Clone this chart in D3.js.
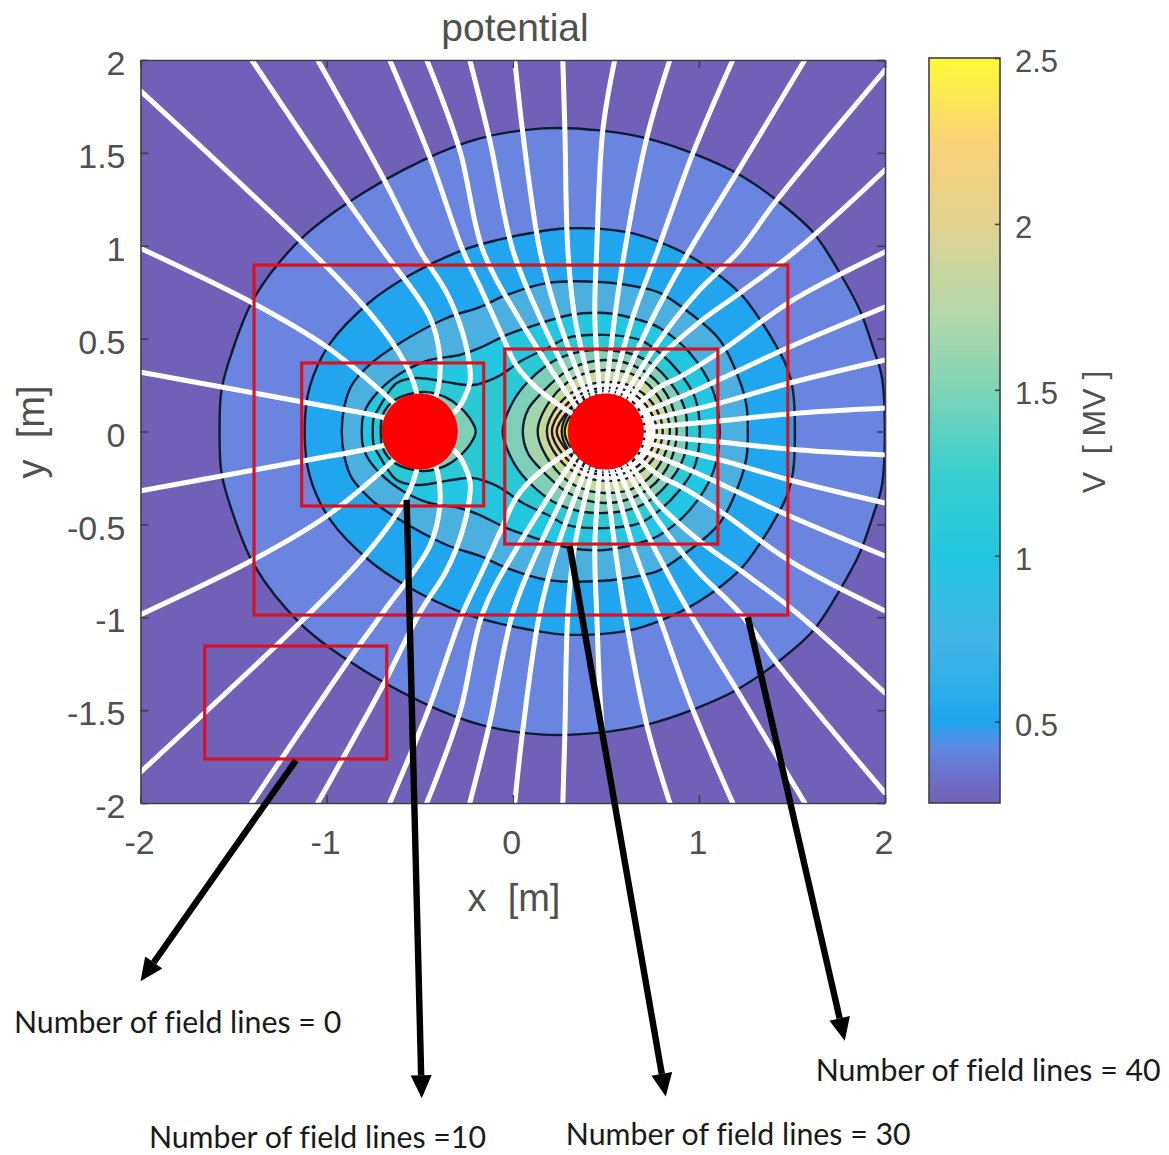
<!DOCTYPE html>
<html><head><meta charset="utf-8">
<script src="https://cdn.jsdelivr.net/npm/d3@7"></script>
<style>
html,body{margin:0;padding:0;background:#fff}
svg{display:block}
text{font-family:"Liberation Sans",Arial,sans-serif;fill:#505050}
.note{font-family:Lato,"Open Sans",sans-serif;fill:#1a1a1a;font-variant-ligatures:none}
</style></head><body>
<script>
// ---- Data (metres, upper half y>=0 as read; the figure is mirrored in y) ----
const xTicks=[-2,-1,0,1,2];
const yTicks=[-2,-1.5,-1,-0.5,0,0.5,1,1.5,2];
const xTickLabels=["-2","-1","0","1","2"];
const yTickLabels=["-2","-1.5","-1","-0.5","0","0.5","1","1.5","2"];
const barTicks=[0.5,1,1.5,2,2.5];
const barTickLabels=["0.5","1","1.5","2","2.5"];
const barDomain=[0.255,2.5];
const barStopValues=[0.255,0.33,0.42,0.5,0.62,0.75,1,1.25,1.5,1.75,2,2.25,2.5];
const barStopColors=["#7161b5","#6f6fc8","#5f88e2","#1ea5ee","#30aeea","#42b4e3","#23c6e0","#3acfcf","#7fd4b5","#b8d8a8","#e0d28f","#fcd277","#fdfb35"];

const contour1=[[-1.575,0],[-1.565,0.223],[-1.505,0.438],[-1.387,0.723],[-1.145,1.03],[-0.892,1.228],[-0.484,1.46],[-0.177,1.578],[0.161,1.632],[0.468,1.621],[0.72,1.578],[0.968,1.497],[1.204,1.39],[1.419,1.245],[1.613,1.073],[1.758,0.852],[1.865,0.653],[1.935,0.455],[1.983,0.294],[1.999,0]];
const contour2=[[-1.118,0],[-1.091,0.239],[-0.984,0.47],[-0.769,0.696],[-0.554,0.841],[-0.269,0.976],[-0.086,1.03],[0.091,1.067],[0.29,1.094],[0.613,1.073],[0.79,1.019],[0.989,0.922],[1.22,0.745],[1.343,0.58],[1.419,0.454],[1.473,0.346],[1.505,0.223],[1.516,0]];
const contour3=[[-0.919,0],[-0.903,0.143],[-0.865,0.25],[-0.758,0.369],[-0.623,0.466],[-0.355,0.611],[-0.177,0.67],[-0.032,0.735],[0.183,0.799],[0.468,0.805],[0.699,0.773],[0.79,0.746],[0.951,0.638],[1.112,0.493],[1.231,0.24],[1.257,0.132],[1.263,0]];
const contour4=[[-0.811,0],[-0.806,0.073],[-0.785,0.132],[-0.715,0.223],[-0.591,0.32],[-0.446,0.385],[-0.285,0.412],[-0.177,0.45],[-0.032,0.52],[0.091,0.563],[0.306,0.627],[0.494,0.638],[0.682,0.6],[0.79,0.557],[0.951,0.423],[1.075,0.223],[1.112,0]];
const contour5=[[-0.752,0],[-0.747,0.073],[-0.725,0.116],[-0.623,0.261],[-0.516,0.288],[-0.355,0.266],[-0.215,0.25],[-0.086,0.293],[0.054,0.385],[0.199,0.455],[0.29,0.503],[0.494,0.52],[0.682,0.493],[0.79,0.423],[0.897,0.315],[0.978,0.186],[1.005,0]];
const contour6a=[[-0.709,0],[-0.699,0.089],[-0.634,0.17],[-0.484,0.213],[-0.365,0.186],[-0.285,0.132],[-0.215,0.046],[-0.199,0]];
const contour6=[[-0.054,0],[-0.011,0.137],[0.075,0.261],[0.253,0.396],[0.494,0.439],[0.715,0.385],[0.876,0.223],[0.93,0.1],[0.935,0]];
const contour7=[[0.054,0],[0.081,0.116],[0.15,0.202],[0.304,0.334],[0.494,0.385],[0.688,0.336],[0.828,0.197],[0.881,0]];
const contour8=[[0.134,0],[0.204,0.17],[0.33,0.288],[0.494,0.331],[0.664,0.299],[0.79,0.175],[0.844,0]];
const contour9=[[0.183,0],[0.247,0.145],[0.36,0.234],[0.494,0.266],[0.634,0.245],[0.752,0.151],[0.806,0]];
const contour10=[[0.21,0],[0.274,0.129],[0.376,0.207],[0.494,0.234],[0.618,0.218],[0.72,0.137],[0.774,0]];
const contour11=[[0.236,0],[0.301,0.116],[0.387,0.191],[0.494,0.218],[0.602,0.191],[0.682,0.11],[0.709,0]];
const contour12=[[0.263,0],[0.306,0.11],[0.392,0.18],[0.494,0.2],[0.59,0.18],[0.66,0.11],[0.69,0]];
const contour13=[[0.279,0],[0.32,0.1],[0.4,0.17],[0.494,0.19],[0.58,0.17],[0.65,0.1],[0.68,0]];
const contourList=[contour1,contour2,contour3,contour4,contour5,contour6a,contour6,contour7,contour8,contour9,contour10,contour11,contour12,contour13];
const bandColors=["#6a85e0","#22a5ef","#4cb0e0","#22c8e2","#2cc9d4","#7ecfb8","#7ecfb8","#a2d6aa","#c8d89a","#e8d48a","#f6cf7a","#fdd16e","#f9e050","#f8f020"];
const paleGlow=[[0.36,0],[0.3,0.1],[0.33,0.17],[0.39,0.24],[0.5,0.27],[0.63,0.24],[0.72,0.16],[0.77,0]];

const lineLeftC=[[-2.004,0.32],[-1.128,0.159],[-0.704,0.078],[-0.607,0.046]];
const lineLeftB=[[-2.004,0.988],[-1.397,0.692],[-0.999,0.455],[-0.645,0.159],[-0.581,0.089]];
const lineLeftA=[[-2.004,1.838],[-1.145,1.031],[-0.806,0.681],[-0.645,0.476],[-0.553,0.315],[-0.516,0.207],[-0.505,0.116]];
const lineLeftD=[[-1.402,2],[-0.892,1.246],[-0.699,0.977],[-0.446,0.616],[-0.392,0.401],[-0.403,0.223],[-0.446,0.116]];
const lineLeftE=[[-1.048,2],[-0.699,1.37],[-0.5,0.977],[-0.355,0.746],[-0.269,0.53],[-0.231,0.347],[-0.231,0.261],[-0.301,0.116],[-0.392,0.062]];
const lineRight1=[[2.01,0.127],[1.542,0.1],[1.112,0.057],[0.699,0.019]];
const lineRight2=[[2.0,0.385],[1.488,0.261],[1.112,0.153],[0.693,0.057]];
const lineRight3=[[2.0,0.67],[1.488,0.455],[1.128,0.288],[0.951,0.207],[0.677,0.094]];
const lineRight4=[[2.0,0.966],[1.488,0.697],[1.128,0.439],[0.897,0.293],[0.79,0.24],[0.656,0.127]];
const lineRight5=[[2.0,1.408],[1.526,0.977],[1.22,0.746],[1.005,0.59],[0.79,0.396],[0.623,0.159]];
const lineRight6=[[2.0,1.946],[1.419,1.246],[1.22,0.977],[0.989,0.746],[0.79,0.493],[0.596,0.181]];
const lineRight7=[[1.569,2],[1.204,1.392],[0.951,0.977],[0.774,0.654],[0.682,0.466],[0.564,0.197]];
const lineRight8=[[1.182,2],[0.968,1.499],[0.779,0.977],[0.645,0.616],[0.532,0.202]];
const lineRight9=[[0.844,2],[0.72,1.58],[0.602,0.977],[0.548,0.616],[0.5,0.206]];
const lineRight10=[[0.548,2],[0.484,1.623],[0.451,0.977],[0.441,0.616],[0.468,0.206]];
const lineRight11=[[0.269,2],[0.28,1.623],[0.296,0.977],[0.333,0.616],[0.43,0.196]];
const lineRight12=[[0.011,2],[0.054,1.607],[0.145,0.977],[0.242,0.616],[0.398,0.186]];
const lineRight13=[[-0.231,2],[-0.124,1.57],[0,0.977],[0.145,0.616],[0.365,0.164]];
const lineRight14=[[-0.462,2],[-0.285,1.515],[-0.161,0.977],[0.038,0.6],[0.339,0.132]];
const lineRight15=[[-0.661,2],[-0.446,1.478],[-0.269,0.977],[-0.161,0.746],[-0.054,0.509],[0.021,0.353],[0.129,0.234],[0.312,0.1]];
const fieldLines=[lineLeftA,lineLeftB,lineLeftC,lineLeftD,lineLeftE,lineRight1,lineRight2,lineRight3,lineRight4,lineRight5,lineRight6,lineRight7,lineRight8,lineRight9,lineRight10,lineRight11,lineRight12,lineRight13,lineRight14,lineRight15];

const charges=[[-0.5,0,0.205],[0.5,0,0.205]];
const boxes=[[-1.39,0.896,1.478,-0.988],[-1.134,0.369,-0.156,-0.401],[-0.043,0.444,1.102,-0.606],[-1.655,-1.155,-0.677,-1.763]];
const arrows=[[-1.165,-1.771,-2.0,-2.96],[-0.57,-0.368,-0.489,-3.59],[0.306,-0.616,0.822,-3.58],[1.263,-1.0,1.784,-3.28]];
const noteTexts=["Number of field lines = 0","Number of field lines =10","Number of field lines = 30","Number of field lines = 40"];
const notePos=[[-2.68,-3.24],[-1.955,-3.86],[0.285,-3.84],[1.628,-3.495]];

// ---- Drawing ----
const W=1169,H=1155;
const x=d3.scaleLinear().domain([-2,2]).range([140.5,885]);
const y=d3.scaleLinear().domain([-2,2]).range([803,60]);
const c=d3.scaleLinear().domain(barDomain).range([803,58]);
const svg=d3.select("body").append("svg").attr("width",W).attr("height",H);
const defs=svg.append("defs");
defs.append("clipPath").attr("id","plot").append("rect")
  .attr("x",x(-2)).attr("y",y(2)).attr("width",x(2)-x(-2)).attr("height",y(-2)-y(2));
defs.append("filter").attr("id","soft").attr("x","-2%").attr("y","-2%").attr("width","104%").attr("height","104%")
  .append("feGaussianBlur").attr("stdDeviation",0.5);
const grad=defs.append("linearGradient").attr("id","bar").attr("x1",0).attr("x2",0).attr("y1",1).attr("y2",0);
barStopValues.forEach((v,i)=>grad.append("stop")
  .attr("offset",(v-barDomain[0])/(barDomain[1]-barDomain[0])).attr("stop-color",barStopColors[i]));

const plot=svg.append("g").attr("clip-path","url(#plot)").append("g").attr("filter","url(#soft)");
plot.append("rect").attr("x",x(-2)).attr("y",y(2)).attr("width",x(2)-x(-2)).attr("height",y(-2)-y(2)).attr("fill","#7161b7");
const closed=d3.line().x(d=>x(d[0])).y(d=>y(d[1])).curve(d3.curveCatmullRomClosed.alpha(0.5));
const open=d3.line().x(d=>x(d[0])).y(d=>y(d[1])).curve(d3.curveCatmullRom.alpha(0.5));
const mirror=pts=>pts.concat(pts.slice(1,-1).reverse().map(p=>[p[0],-p[1]]));
contourList.forEach((pts,i)=>{
  plot.append("path").attr("d",closed(mirror(pts))).attr("fill",bandColors[i]);
});
plot.append("path").attr("d",closed(mirror(paleGlow))).attr("fill","#fffdf0").attr("opacity",0.9);
contourList.forEach(pts=>{
  plot.append("path").attr("d",closed(mirror(pts))).attr("fill","none")
    .attr("stroke","#0c1c30").attr("stroke-width",2.4);
});
[1,-1].forEach(s=>fieldLines.forEach(pts=>{
  plot.append("path").attr("d",open(pts.map(p=>[p[0],s*p[1]]))).attr("fill","none")
    .attr("stroke","#fff").attr("stroke-width",5).attr("stroke-linecap","round");
}));
charges.forEach(q=>{
  plot.append("ellipse").attr("cx",x(q[0])).attr("cy",y(q[1]))
    .attr("rx",x(q[2])-x(0)).attr("ry",y(0)-y(q[2])).attr("fill","#ff0000");
});

// axes
const fs=34;
const ax=svg.append("g").attr("class","axes");
const frameStyle=g=>{g.selectAll("path.domain,line").attr("stroke","#404048").attr("stroke-width",1.6);g.selectAll("text").attr("font-size",fs).attr("fill","#505050");};
ax.append("g").attr("transform",`translate(0,${y(-2)})`)
  .call(d3.axisBottom(x).tickValues(xTicks).tickFormat((d,i)=>xTickLabels[i]).tickSize(-8).tickSizeOuter(0).tickPadding(27)).call(frameStyle)
  .call(g=>g.selectAll("text").attr("dx",-1.5));
ax.append("g").attr("transform",`translate(${x(-2)},0)`)
  .call(d3.axisLeft(y).tickValues(yTicks).tickFormat((d,i)=>yTickLabels[i]).tickSize(-8).tickSizeOuter(0).tickPadding(15)).call(frameStyle)
  .call(g=>g.selectAll("text").attr("dy","0.43em"));
ax.append("g").attr("transform",`translate(0,${y(2)})`)
  .call(d3.axisTop(x).tickValues(xTicks).tickFormat("").tickSize(-8).tickSizeOuter(0)).call(frameStyle);
ax.append("g").attr("transform",`translate(${x(2)},0)`)
  .call(d3.axisRight(y).tickValues(yTicks).tickFormat("").tickSize(-8).tickSizeOuter(0)).call(frameStyle);

// colourbar
svg.append("rect").attr("x",929).attr("y",c(2.5)).attr("width",71).attr("height",c(barDomain[0])-c(2.5))
  .attr("fill","url(#bar)").attr("stroke","#404048").attr("stroke-width",1.6);
svg.append("g").attr("transform","translate(1000,0)")
  .call(d3.axisRight(c).tickValues(barTicks).tickFormat((d,i)=>barTickLabels[i]).tickSize(-5).tickSizeOuter(0).tickPadding(15))
  .call(g=>{g.select("path.domain").remove();g.selectAll("line").attr("stroke","#404048").attr("stroke-width",1.6);
    g.selectAll("text").attr("font-size",31).attr("fill","#505050").attr("dy","0.43em");});

// titles
svg.append("text").attr("x",515).attr("y",41).attr("text-anchor","middle").attr("font-size",39).text("potential");
svg.append("text").attr("x",514).attr("y",911).attr("text-anchor","middle").attr("font-size",38).style("white-space","pre").text("x  [m]");
svg.append("text").attr("transform","translate(44,432) rotate(-90)").attr("text-anchor","middle").attr("font-size",38).style("white-space","pre").text("y  [m]");
svg.append("text").attr("transform","translate(1105,432) rotate(-90)").attr("text-anchor","middle").attr("font-size",32).attr("fill","#606060").style("white-space","pre").text("V  [ MV ]");

// red boxes
boxes.forEach(b=>svg.append("rect").attr("x",x(b[0])).attr("y",y(b[1])).attr("width",x(b[2])-x(b[0])).attr("height",y(b[3])-y(b[1]))
  .attr("fill","none").attr("stroke","#de1020").attr("stroke-width",3.2));

// arrows
arrows.forEach(a=>{
  const x0=x(a[0]),y0=y(a[1]),x1=x(a[2]),y1=y(a[3]);
  const L=Math.hypot(x1-x0,y1-y0),ux=(x1-x0)/L,uy=(y1-y0)/L,hl=23,hw=10.5;
  svg.append("line").attr("x1",x0).attr("y1",y0).attr("x2",x1-ux*hl).attr("y2",y1-uy*hl)
    .attr("stroke","#000").attr("stroke-width",6.4);
  svg.append("polygon").attr("fill","#000").attr("points",[[x1,y1],[x1-ux*hl-uy*hw,y1-uy*hl+ux*hw],[x1-ux*hl+uy*hw,y1-uy*hl-ux*hw]].join(" "));
});
// notes
noteTexts.forEach((t,i)=>svg.append("text").attr("class","note").attr("x",x(notePos[i][0])).attr("y",y(notePos[i][1])).attr("font-size",30.3).text(t));
</script>
</body></html>
